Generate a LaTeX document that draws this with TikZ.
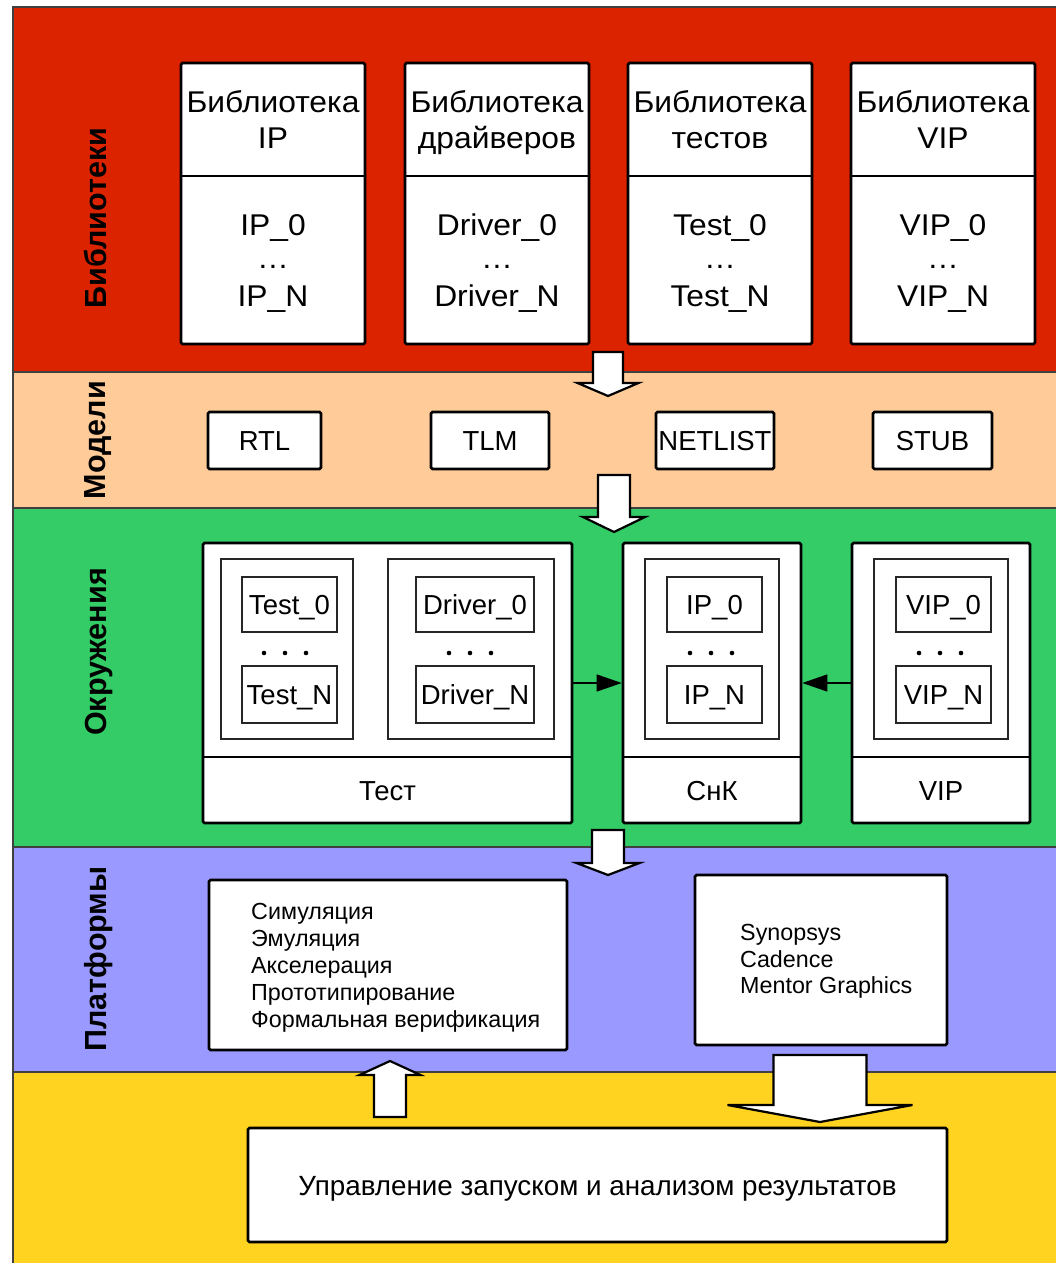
\documentclass[tikz,border=0pt]{standalone}
\usepackage{fontspec}
\setmainfont{Liberation Sans}
\newfontfamily\libfont{Liberation Sans}[FakeStretch=1.06]
\usetikzlibrary{arrows.meta}

\definecolor{libred}{HTML}{DC2300}
\definecolor{modpeach}{HTML}{FFCC99}
\definecolor{envgreen}{HTML}{33CC66}
\definecolor{platblue}{HTML}{9999FF}
\definecolor{runyellow}{HTML}{FFD320}

% block arrow: centre x, tail y, head-base y, tip y, half shaft, half head
\newcommand\blockdown[6]{%
  \draw[blockarrow] (#1-#5,#2) -- (#1+#5,#2) -- (#1+#5,#3) -- (#1+#6,#3)
    -- (#1,#4) -- (#1-#6,#3) -- (#1-#5,#3) -- cycle;}

% rectangle node given by its corners: style, name, x1, y1, x2, y2, text
\newcommand\boxat[7]{%
  \node[#1, minimum width={#5-#3}, minimum height={#6-#4}] (#2)
    at ({(#3+#5)/2},{(#4+#6)/2}) {#7};}

% library box: name, left x, title lines, first and last item
\newcommand\libbox[6]{%
  \boxat{bigbox}{#1}{#2}{63}{#2+184}{344}{}
  \draw[line width=2.6pt] (#1.west |- 0,176) -- (#1.east |- 0,176);
  \node[libtxt] (#1-t1) at (#2+92,112) {#3};
  \node[libtxt] (#1-t2) at (#2+92,148) {#4};
  \node[libtxt] (#1-i0) at (#2+92,235) {#5};
  \node[libtxt] (#1-id) at (#2+92,268) {…};
  \node[libtxt] (#1-in) at (#2+92,306) {#6};}

\begin{document}
\begin{tikzpicture}[x=1pt,y=-1pt,
  band/.style={draw=black!75,line width=1.2pt},
  bigbox/.style={draw=black,line width=2.6pt,fill=white,rounded corners=1.5pt,inner sep=0pt},
  thinbox/.style={draw=black!85,line width=1.3pt,fill=white,inner sep=0pt,
    font=\fontsize{27.5}{32}\selectfont,text height=19.5pt,text depth=0pt},
  modbox/.style={bigbox,font=\fontsize{27.5}{32}\selectfont,text height=20pt,text depth=0pt},
  libtxt/.style={anchor=base,inner sep=0pt,font=\libfont\fontsize{30}{34}\selectfont},
  envtxt/.style={inner sep=0pt,font=\fontsize{27.5}{32}\selectfont,text height=19.5pt,text depth=0pt},
  runtxt/.style={inner sep=0pt,font=\fontsize{27.8}{32}\selectfont,text height=20pt,text depth=0pt},
  plattxt/.style={anchor=base west,inner sep=0pt,font=\fontsize{23.3}{27}\selectfont},
  sidelbl/.style={rotate=90,inner sep=0pt,font=\fontsize{30.5}{34}\selectfont\bfseries,
    text height=21.8pt,text depth=0pt},
  blockarrow/.style={draw=black,line width=2.2pt,fill=white,line join=miter},
  linkarrow/.style={line width=1.3pt,-{Triangle[length=25pt,width=17pt]}}]

\useasboundingbox (0,0) rectangle (1056,1263);
\fill[white] (0,0) rectangle (1056,1263);

% horizontal bands
\path[band,fill=libred]    (13,7)    rectangle (1062,372);
\path[band,fill=modpeach]  (13,372)  rectangle (1062,508);
\path[band,fill=envgreen]  (13,508)  rectangle (1062,847);
\path[band,fill=platblue]  (13,847)  rectangle (1062,1072);
\path[band,fill=runyellow] (13,1072) rectangle (1062,1270);

% band titles
\node[sidelbl] (lbl-lib)  at (96,218) {Библиотеки};
\node[sidelbl] (lbl-mod)  at (95,440) {Модели};
\node[sidelbl] (lbl-env)  at (96,652) {Окружения};
\node[sidelbl] (lbl-plat) at (96,959) {Платформы};

% libraries
\libbox{libip}{181}{Библиотека}{IP}{IP\_0}{IP\_N}
\libbox{libdrv}{405}{Библиотека}{драйверов}{Driver\_0}{Driver\_N}
\libbox{libtst}{628}{Библиотека}{тестов}{Test\_0}{Test\_N}
\libbox{libvip}{851}{Библиотека}{VIP}{VIP\_0}{VIP\_N}

% models
\boxat{modbox}{rtl}{208}{412}{321}{469}{RTL}
\boxat{modbox}{tlm}{431}{412}{549}{469}{TLM}
\boxat{modbox}{netlist}{656}{412}{774}{469}{NETLIST}
\boxat{modbox}{stub}{873}{412}{992}{469}{STUB}

% environments: test
\boxat{bigbox}{test}{203}{543}{572}{823}{}
\draw[line width=2.6pt] (test.west |- 0,757) -- (test.east |- 0,757);
\node[envtxt] (test-lbl) at (387.5,791) {Тест};
\boxat{thinbox}{test-grp}{221}{559}{353}{739}{}
\boxat{thinbox}{drv-grp}{388}{559}{554}{739}{}
\boxat{thinbox}{test0}{242}{577}{337}{632}{Test\_0}
\boxat{thinbox}{testn}{242}{666}{337}{723}{Test\_N}
\boxat{thinbox}{drv0}{416}{577}{534}{632}{Driver\_0}
\boxat{thinbox}{drvn}{416}{666}{534}{723}{Driver\_N}
\foreach \x in {264,285,306,449,470,491} \fill (\x,653) circle (2.3);

% environments: design under test
\boxat{bigbox}{snk}{623}{543}{801}{823}{}
\draw[line width=2.6pt] (snk.west |- 0,757) -- (snk.east |- 0,757);
\node[envtxt] (snk-lbl) at (712,791) {СнК};
\boxat{thinbox}{ip-grp}{645}{559}{779}{739}{}
\boxat{thinbox}{ip0}{667}{577}{762}{632}{IP\_0}
\boxat{thinbox}{ipn}{667}{666}{762}{723}{IP\_N}
\foreach \x in {690,711,732} \fill (\x,653) circle (2.3);

% environments: verification IP
\boxat{bigbox}{vip}{852}{543}{1030}{823}{}
\draw[line width=2.6pt] (vip.west |- 0,757) -- (vip.east |- 0,757);
\node[envtxt] (vip-lbl) at (941,791) {VIP};
\boxat{thinbox}{vip-grp}{874}{559}{1008}{739}{}
\boxat{thinbox}{vip0}{896}{577}{991}{632}{VIP\_0}
\boxat{thinbox}{vipn}{896}{666}{991}{723}{VIP\_N}
\foreach \x in {919,940,961} \fill (\x,653) circle (2.3);

\draw[linkarrow] (test.east) -- (snk.west);
\draw[linkarrow] (vip.west) -- (snk.east);

% platforms
\boxat{bigbox}{platforms}{209}{880}{567}{1050}{}
\node[plattxt] (p1) at (251,919)  {Симуляция};
\node[plattxt] (p2) at (251,946)  {Эмуляция};
\node[plattxt] (p3) at (251,973)  {Акселерация};
\node[plattxt] (p4) at (251,1000) {Прототипирование};
\node[plattxt] (p5) at (251,1027) {Формальная верификация};

\boxat{bigbox}{vendors}{695}{875}{947}{1045}{}
\node[plattxt] (v1) at (740,940) {Synopsys};
\node[plattxt] (v2) at (740,967) {Cadence};
\node[plattxt] (v3) at (740,993) {Mentor Graphics};

% run control
\boxat{bigbox}{run}{248}{1128}{947}{1242}{}
\node[runtxt] (run-lbl) at (run.center) {Управление запуском и анализом результатов};

% flow arrows between layers
\blockdown{608}{352}{383}{396}{15}{30.5}
\blockdown{614}{475}{517}{532}{16}{31}
\blockdown{608}{830}{863}{875}{16}{31.5}
\blockdown{390}{1117}{1075}{1061}{16}{30.5}
\blockdown{820}{1055}{1105}{1122}{46.5}{92.5}
\end{tikzpicture}
\end{document}
